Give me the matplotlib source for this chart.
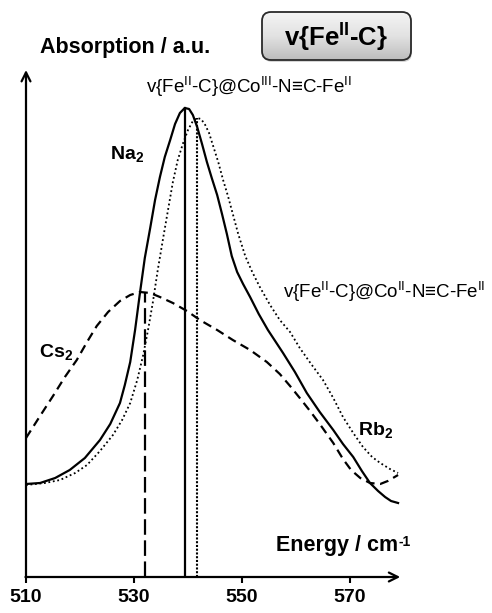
import numpy as np
import matplotlib
matplotlib.use("Agg")
import matplotlib.pyplot as plt
from matplotlib.colors import LinearSegmentedColormap
from matplotlib.patches import FancyBboxPatch

plt.rcParams["font.family"] = ["Liberation Sans", "DejaVu Sans"]
plt.rcParams["mathtext.fontset"] = "custom"
plt.rcParams["mathtext.rm"] = "Liberation Sans"
plt.rcParams["mathtext.it"] = "Liberation Sans:italic"
plt.rcParams["mathtext.bf"] = "Liberation Sans:bold"

# Na2 (solid)
na_energy = [510.0, 512.6, 515.4, 518.1, 520.9, 523.7, 525.6, 527.4, 528.3, 529.3,
             530.2, 531.1, 532.0, 533.0, 533.9, 534.8, 535.7, 536.7, 537.6, 538.5,
             539.4, 540.2, 540.9, 541.7, 542.6, 543.5, 544.4, 545.4, 546.3, 547.2,
             548.1, 549.1, 550.2, 551.5, 553.1, 554.8, 557.6, 559.8, 562.0, 564.4,
             566.9, 568.7, 570.6, 572.2, 573.7, 575.2, 576.5, 577.6, 578.9]
na_abs = [0.93, 0.94, 0.99, 1.07, 1.19, 1.37, 1.53, 1.74, 1.92, 2.15,
          2.47, 2.84, 3.19, 3.49, 3.77, 4.00, 4.20, 4.37, 4.53, 4.64,
          4.69, 4.68, 4.62, 4.50, 4.33, 4.15, 3.99, 3.82, 3.63, 3.43,
          3.21, 3.05, 2.93, 2.80, 2.63, 2.47, 2.24, 2.05, 1.84, 1.65,
          1.47, 1.33, 1.20, 1.06, 0.94, 0.86, 0.80, 0.76, 0.74]

# Rb2 (dotted)
rb_energy = [510.0, 513.5, 516.3, 519.1, 521.3, 523.7, 526.1, 527.8, 529.3, 530.6,
             531.7, 532.6, 533.5, 534.4, 535.4, 536.3, 537.2, 538.1, 539.1, 540.0,
             540.9, 541.7, 542.4, 543.1, 543.9, 544.6, 545.6, 546.5, 547.4, 548.3,
             549.3, 550.6, 551.9, 553.3, 555.2, 557.0, 558.9, 560.7, 562.8, 565.0,
             566.9, 568.7, 570.6, 572.4, 574.1, 575.6, 577.4, 578.9]
rb_abs = [0.92, 0.94, 0.97, 1.04, 1.12, 1.26, 1.42, 1.57, 1.74, 1.97,
          2.22, 2.47, 2.75, 3.07, 3.39, 3.67, 3.95, 4.17, 4.34, 4.47,
          4.56, 4.59, 4.58, 4.53, 4.44, 4.32, 4.15, 3.97, 3.81, 3.63,
          3.43, 3.21, 3.05, 2.90, 2.72, 2.57, 2.45, 2.29, 2.13, 1.97,
          1.79, 1.60, 1.44, 1.30, 1.20, 1.14, 1.08, 1.04]

# Cs2 (dashed)
cs_energy = [510.0, 512.6, 515.0, 517.2, 519.4, 521.3, 523.1, 525.2, 527.4, 529.3,
             531.1, 533.0, 534.8, 537.2, 539.8, 542.2, 545.4, 548.3, 551.5, 554.6,
             557.0, 558.9, 560.7, 562.6, 564.4, 566.9, 568.7, 570.2, 571.9, 573.7,
             575.6, 577.0, 578.9]
cs_abs = [1.39, 1.61, 1.81, 2.00, 2.17, 2.35, 2.51, 2.65, 2.76, 2.82,
          2.85, 2.84, 2.80, 2.74, 2.66, 2.57, 2.47, 2.37, 2.27, 2.15,
          2.03, 1.91, 1.79, 1.66, 1.53, 1.34, 1.18, 1.07, 0.99, 0.94,
          0.93, 0.96, 1.02]

# peak markers (energy, height)
cs_peak = (532.0, 2.85)
na_peak = (539.4, 4.69)
rb_peak = (541.7, 4.59)

xticks = [510, 530, 550, 570]

W, H = 492, 613
fig = plt.figure(figsize=(W / 100, H / 100), dpi=100)
ax = fig.add_axes([26 / W, 36 / H, 378 / W, 510 / H])
ax.set_xlim(510, 580)
ax.set_ylim(0, 5.1)
for s in ax.spines.values():
    s.set_visible(False)

lw = 1.6
ax.plot(na_energy, na_abs, color="black", lw=lw)
ax.plot(rb_energy, rb_abs, color="black", lw=1.3, linestyle=(0, (1, 1.5)))
ax.plot(cs_energy, cs_abs, color="black", lw=lw, linestyle=(0, (4, 2.5)))

ax.plot([cs_peak[0]] * 2, [0, cs_peak[1]], color="black", lw=lw, linestyle=(0, (7, 2.5)))
ax.plot([na_peak[0]] * 2, [0, na_peak[1]], color="black", lw=lw)
ax.plot([rb_peak[0]] * 2, [0, rb_peak[1]], color="black", lw=1.5, linestyle=(0, (1, 0.8)))

arrow = dict(arrowstyle="->", lw=1.6, color="black", mutation_scale=16,
             shrinkA=0, shrinkB=0)
ax.annotate("", xy=(579.3, 0), xytext=(509.9, 0), arrowprops=arrow, annotation_clip=False)
ax.annotate("", xy=(510, 5.07), xytext=(510, -0.01), arrowprops=arrow, annotation_clip=False)

ax.set_xticks(xticks)
ax.set_xticklabels([str(t) for t in xticks], fontsize=14, fontweight="bold")
ax.tick_params(axis="x", direction="out", length=4, width=1.5, pad=5)
ax.set_yticks([])

ax.text(512.6, 5.24, "Absorption / a.u.", fontsize=15.5, fontweight="bold",
        va="baseline", clip_on=False)
en = ax.text(556.3, 0.26, "Energy / cm", fontsize=15.5, fontweight="bold", va="baseline")
ax.annotate("-1", xy=(1.0, 1.0), xycoords=en, fontsize=10, fontweight="bold",
            ha="left", va="top")
ax.text(525.6, 4.18, r"Na$_{\mathbf{2}}$", fontsize=14, fontweight="bold", va="baseline")
ax.text(512.4, 2.20, r"Cs$_{\mathbf{2}}$", fontsize=14, fontweight="bold", va="baseline")
ax.text(571.5, 1.42, r"Rb$_{\mathbf{2}}$", fontsize=14, fontweight="bold", va="baseline")
ax.text(551.3, 4.84, r"v{Fe$^{\mathrm{II}}$-C}@Co$^{\mathrm{III}}$-N≡C-Fe$^{\mathrm{II}}$",
        fontsize=13.5, ha="center", va="baseline", clip_on=False)
ax.text(557.6, 2.79, r"v{Fe$^{\mathrm{II}}$-C}@Co$^{\mathrm{II}}$-N≡C-Fe$^{\mathrm{II}}$",
        fontsize=13.5, ha="left", va="baseline", clip_on=False)

# title box with gradient fill
ov = fig.add_axes([0, 0, 1, 1])
ov.set_xlim(0, W)
ov.set_ylim(H, 0)
ov.axis("off")
shadow = FancyBboxPatch((263, 14), 149, 48, boxstyle="round,pad=0,rounding_size=9",
                        facecolor="#888888", edgecolor="none", alpha=0.35)
ov.add_patch(shadow)
box = FancyBboxPatch((262, 12), 149, 48, boxstyle="round,pad=0,rounding_size=9",
                     facecolor="none", edgecolor="#2a2a2a", lw=1.3, zorder=3)
ov.add_patch(box)
grad = np.linspace(0, 1, 64).reshape(-1, 1)
cmap = LinearSegmentedColormap.from_list("g", ["#f4f4f4", "#e2e2e2", "#bdbdbd"])
img = ov.imshow(grad, cmap=cmap, extent=(262, 411, 60, 12), aspect="auto", zorder=2)
img.set_clip_path(box)
ov.text(336.5, 47, r"v{Fe$^{\mathbf{II}}$-C}", fontsize=18.5, fontweight="bold",
        ha="center", va="baseline", zorder=4)

fig.savefig("out.png", dpi=100)
